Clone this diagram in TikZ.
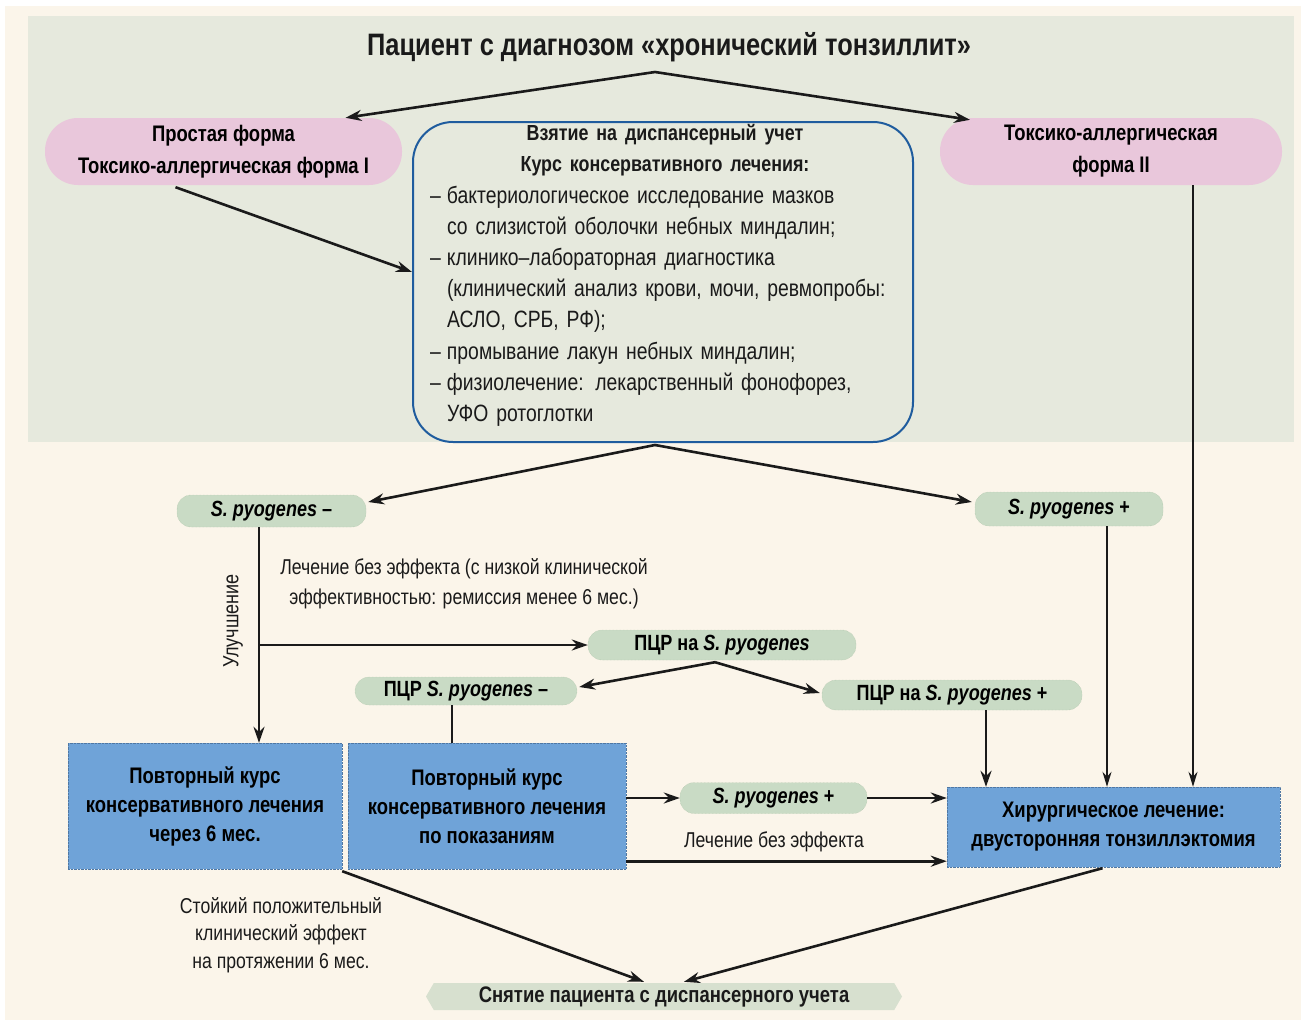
\documentclass[tikz,border=0pt]{standalone}
\usepackage{fontspec}
\setmainfont{Liberation Sans}[FakeStretch=0.82]
\usetikzlibrary{arrows.meta,calc,shapes.symbols}
\definecolor{cream}{HTML}{FBF5EA}
\definecolor{texture}{HTML}{E6E9DD}
\definecolor{pinkfill}{HTML}{E9C7DB}
\definecolor{greenfill}{HTML}{C9DBC5}
\definecolor{greenedge}{HTML}{A9BFA3}
\definecolor{bluefill}{HTML}{6FA3D8}
\definecolor{blueedge}{HTML}{4F77A3}
\definecolor{darkblue}{HTML}{1F5C9E}
\definecolor{ink}{HTML}{1A1A1A}
\definecolor{bottomfill}{HTML}{D7E0CF}
\begin{document}
\begin{tikzpicture}[x=1pt,y=-1pt,
  titlefont/.style={font=\bfseries\fontsize{31}{34}\selectfont},
  pinkpill/.style={fill=pinkfill, rounded corners=33pt, align=center, inner sep=0pt,
    minimum height=67pt, font=\bfseries\fontsize{22.5}{32}\selectfont},
  greenpill/.style={fill=greenfill, draw=greenedge, densely dotted, rounded corners=14pt, inner sep=0pt,
    align=center, font=\bfseries\fontsize{22}{26}\selectfont},
  bluebox/.style={fill=bluefill, draw=blueedge, densely dotted, inner sep=0pt, align=center,
    font=\bfseries\fontsize{22.5}{29}\selectfont},
  lbl/.style={align=center, inner sep=0pt, text=ink, font=\fontsize{21.5}{30}\selectfont},
  arr/.style={draw=ink, line width=2.6pt, -{Stealth[length=16pt,width=11pt]}},
  thinarr/.style={draw=ink, line width=1.6pt, -{Stealth[length=15pt,width=9pt]}},
  plainline/.style={draw=ink, line width=2.2pt}
]
\useasboundingbox (0,0) rectangle (1306,1025);
\fill[white] (0,0) rectangle (1306,1025);
\fill[cream] (5,6) rectangle (1301,1020);
\fill[texture] (28,16) rectangle (1294,442);

% title
\node[titlefont, text=ink] (title) at (669,47) {Пациент с диагнозом «хронический тонзиллит»};
\coordinate (tsplit) at (655,72);

% pink pills
\node[pinkpill, minimum width=357pt] (pinkL) at (223.5,151.5) {Простая форма\\Токсико-аллергическая форма I};
\node[pinkpill, minimum width=342pt] (pinkR) at (1111,151.5) {Токсико-аллергическая\\форма II};

% central box
\node[draw=darkblue, line width=2pt, rounded corners=40pt, minimum width=500pt, minimum height=320pt, inner sep=0pt] (care) at (663,282) {};
\node[text width=470pt, align=left, inner sep=0pt, text=ink, font=\fontsize{23.6}{31.2}\selectfont] (caretext) at (665,275.5) {%
\makebox[470pt][c]{\bfseries\fontsize{21.8}{31.2}\selectfont Взятие на диспансерный учет}\\
\makebox[470pt][c]{\bfseries\fontsize{21.8}{31.2}\selectfont Курс консервативного лечения:}\\
\makebox[17pt][l]{–}бактериологическое исследование мазков\\
\hspace*{17pt}со слизистой оболочки небных миндалин;\\
\makebox[17pt][l]{–}клинико–лабораторная диагностика\\
\hspace*{17pt}(клинический анализ крови, мочи, ревмопробы:\\
\hspace*{17pt}АСЛО, СРБ, РФ);\\
\makebox[17pt][l]{–}промывание лакун небных миндалин;\\
\makebox[17pt][l]{–}физиолечение: лекарственный фонофорез,\\
\hspace*{17pt}УФО ротоглотки};

% green pills
\node[greenpill, minimum width=189pt, minimum height=32pt] (Sminus) at (271.5,511) {\textit{S. pyogenes} –};
\node[greenpill, minimum width=188pt, minimum height=34pt] (Splus) at (1069,509) {\textit{S. pyogenes} +};
\node[greenpill, minimum width=268pt, minimum height=30pt] (PCR) at (722,645) {ПЦР на \textit{S. pyogenes}};
\node[greenpill, minimum width=222pt, minimum height=28pt] (PCRminus) at (466,691) {ПЦР \textit{S. pyogenes} –};
\node[greenpill, minimum width=260pt, minimum height=30pt] (PCRplus) at (952,695) {ПЦР на \textit{S. pyogenes} +};
\node[greenpill, minimum width=187pt, minimum height=31pt] (Splus2) at (773.5,798) {\textit{S. pyogenes} +};

% blue boxes
\node[bluebox, minimum width=274pt, minimum height=126pt] (blue1) at (205,806) {Повторный курс\\консервативного лечения\\через 6 мес.};
\node[bluebox, minimum width=278pt, minimum height=126pt] (blue2) at (487,806) {Повторный курс\\консервативного лечения\\по показаниям};
\node[bluebox, minimum width=333pt, minimum height=80pt] (surg) at (1113.5,827) {Хирургическое лечение:\\двусторонняя тонзиллэктомия};

% bottom node
\node[shape=signal, signal to=west and east, signal pointer angle=120, fill=bottomfill, inner sep=0pt,
  minimum width=476pt, minimum height=27pt, text=ink, font=\bfseries\fontsize{22.5}{26}\selectfont] (remove) at (664,996.5) {Снятие пациента с диспансерного учета};

% labels
\node[lbl, rotate=90, font=\fontsize{22}{26}\selectfont] (impr) at (233,621) {Улучшение};
\node[lbl] (noeff1) at (464,584) {Лечение без эффекта (с низкой клинической\\эффективностью: ремиссия менее 6 мес.)};
\node[lbl] (noeff2) at (774,842) {Лечение без эффекта};
\node[lbl, font=\fontsize{21.5}{27.5}\selectfont] (stable) at (281,935) {Стойкий положительный\\клинический эффект\\на протяжении 6 мес.};

% connectors
\draw[arr] (tsplit) -- ($(pinkL.north)+(122,0)$);
\draw[arr] (tsplit) -- ($(pinkR.north)+(-141,2)$);
\draw[arr] ($(pinkL.south)+(-48,2)$) -- ($(care.west)+(0,-10)$);
\coordinate (csplit) at ($(care.south)+(-8,2)$);
\draw[arr] (csplit) -- ($(Sminus.east)+(2,-9)$);
\draw[arr] (csplit) -- ($(Splus.west)+(-3,-7)$);

\coordinate (vs) at ($(Sminus.south)+(-12.5,0)$);
\draw[arr] (vs) -- (vs |- blue1.north);
\draw[arr] (vs |- PCR.west) -- (PCR.west);

\coordinate (psplit) at ($(PCR.south)+(-7,2)$);
\draw[arr] (psplit) -- ($(PCRminus.east)+(2,-4)$);
\draw[arr] (psplit) -- ($(PCRplus.west)+(-2,-2)$);

\coordinate (pm) at ($(PCRminus.south)+(-14,0)$);
\draw[plainline] (pm) -- (pm |- blue2.north);

\coordinate (pp) at ($(PCRplus.south)+(34,0)$);
\draw[arr] (pp) -- (pp |- surg.north);
\coordinate (sp) at ($(Splus.south)+(38,0)$);
\draw[thinarr] (sp) -- (sp |- surg.north);
\coordinate (pr) at ($(pinkR.south)+(82,0)$);
\draw[thinarr] (pr) -- (pr |- surg.north);

\draw[arr] (blue2.east |- Splus2.west) -- (Splus2.west);
\draw[arr] (Splus2.east) -- (Splus2.east -| surg.west);
\coordinate (q) at ($(blue2.south east)+(0,-8)$);
\draw[arr] (q) -- (q -| surg.west);

\draw[arr] ($(blue1.south east)+(0,2)$) -- ($(remove.north)+(-20,-1)$);
\draw[arr] ($(surg.south)+(-11,1)$) -- ($(remove.north)+(20,-1)$);
\end{tikzpicture}
\end{document}
